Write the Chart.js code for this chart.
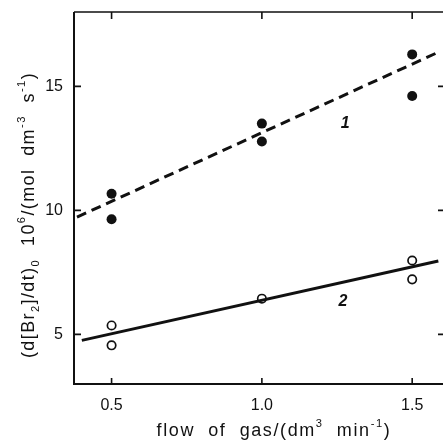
<!DOCTYPE html>
<html>
<head>
<meta charset="utf-8">
<script src="https://cdn.jsdelivr.net/npm/chart.js@4"></script>
<style>
  html, body { margin: 0; padding: 0; background: #fff; overflow: hidden; }
  #wrap { width: 443px; height: 441px; overflow: hidden; }
  canvas { display: block; }
</style>
</head>
<body>
<div id="wrap"><canvas id="rateChart" width="448" height="441"></canvas></div>
<script>
// ===== Data =====
const xTicks = [0.5, 1.0, 1.5];
const yTicks = [5, 10, 15];

// curve 1 (filled circles, dashed fit)
const flowFilled = [0.5, 0.5, 1.0, 1.0, 1.5, 1.5];
const rateFilled = [10.67, 9.64, 13.5, 12.78, 16.29, 14.61];
const line1Flow = [0.385, 1.587];
const line1Rate = [9.73, 16.38];

// curve 2 (open circles, solid fit)
const flowOpen = [0.5, 0.5, 1.0, 1.5, 1.5];
const rateOpen = [5.36, 4.56, 6.44, 7.98, 7.22];
const line2Flow = [0.401, 1.587];
const line2Rate = [4.76, 7.96];

// curve numbers
const curveLabels = ['1', '2'];
const curveLabelFlow = [1.277, 1.27];
const curveLabelRate = [13.5, 6.34];

const toPoints = (xs, ys) => xs.map((x, i) => ({ x: x, y: ys[i] }));

const INK = '#111';
const FONT = '"Liberation Sans", Arial, sans-serif';

// draw text made of normal / sub / sup pieces, centred on cx
function richText(ctx, parts, cx, baseY, size, spacing) {
  const measure = p => {
    const s = p.s ? size * 0.62 : size;
    ctx.font = s + 'px ' + FONT;
    return ctx.measureText(p.t).width + p.t.length * spacing;
  };
  const total = parts.reduce((w, p) => w + measure(p), 0);
  let x = cx - total / 2;
  parts.forEach(p => {
    const w = measure(p);
    let dy = 0;
    if (p.s === 'sub') dy = size * 0.28;
    if (p.s === 'sup') dy = -size * 0.5;
    let cx2 = x;
    for (const ch of p.t) {
      ctx.fillText(ch, cx2, baseY + dy);
      cx2 += ctx.measureText(ch).width + spacing;
    }
    x += w;
  });
}

// no extra edge padding from the tick labels
const noEdgePad = s => {
  s.paddingTop = 0; s.paddingBottom = 0;
  s.paddingLeft = 0; s.paddingRight = 0;
};

const framePlugin = {
  id: 'frame',
  afterDraw(chart) {
    const ctx = chart.ctx;
    const a = chart.chartArea;
    const xs = chart.scales.x;
    const ys = chart.scales.y;
    ctx.save();
    ctx.strokeStyle = INK;
    ctx.lineCap = 'butt';

    // frame
    ctx.lineWidth = 2;
    ctx.beginPath();
    ctx.moveTo(a.left, a.top);
    ctx.lineTo(a.left, a.bottom);
    ctx.lineTo(a.right, a.bottom);
    ctx.stroke();
    ctx.lineWidth = 1.6;
    ctx.beginPath();
    ctx.moveTo(a.left, a.top);
    ctx.lineTo(a.right, a.top);
    ctx.lineTo(a.right, a.bottom);
    ctx.stroke();

    // inward ticks
    ctx.lineWidth = 1.6;
    xs.ticks.forEach(t => {
      const px = xs.getPixelForValue(t.value);
      ctx.beginPath();
      ctx.moveTo(px, a.bottom); ctx.lineTo(px, a.bottom - 6);
      ctx.moveTo(px, a.top); ctx.lineTo(px, a.top + 7);
      ctx.stroke();
    });
    ys.ticks.forEach(t => {
      const py = ys.getPixelForValue(t.value);
      ctx.beginPath();
      ctx.moveTo(a.left, py); ctx.lineTo(a.left + 7, py);
      ctx.moveTo(a.right, py); ctx.lineTo(a.right - 8, py);
      ctx.stroke();
    });

    // curve numbers
    ctx.fillStyle = INK;
    ctx.font = 'italic bold 16px ' + FONT;
    ctx.textAlign = 'center';
    ctx.textBaseline = 'middle';
    curveLabels.forEach((lab, i) => {
      ctx.fillText(lab, xs.getPixelForValue(curveLabelFlow[i]), ys.getPixelForValue(curveLabelRate[i]));
    });

    // axis titles
    ctx.textAlign = 'left';
    ctx.textBaseline = 'alphabetic';
    richText(ctx, [
      { t: 'flow  of  gas/(dm' }, { t: '3', s: 'sup' }, { t: '  min' }, { t: '-1', s: 'sup' }, { t: ')' }
    ], 274, 436, 18, 1.6);

    ctx.translate(34, 215);
    ctx.rotate(-Math.PI / 2);
    richText(ctx, [
      { t: '(d[Br' }, { t: '2', s: 'sub' }, { t: ']/dt)' }, { t: '0', s: 'sub' },
      { t: '  10' }, { t: '6', s: 'sup' }, { t: '/(mol  dm' }, { t: '-3', s: 'sup' },
      { t: '  s' }, { t: '-1', s: 'sup' }, { t: ')' }
    ], 0, 0, 18, 1.4);
    ctx.restore();
  }
};

const ctx = document.getElementById('rateChart').getContext('2d');
new Chart(ctx, {
  type: 'scatter',
  data: {
    datasets: [
      {
        label: 'fit 1',
        data: toPoints(line1Flow, line1Rate),
        showLine: true,
        borderColor: INK,
        borderWidth: 3,
        borderDash: [10, 6],
        pointRadius: 0,
        fill: false
      },
      {
        label: 'fit 2',
        data: toPoints(line2Flow, line2Rate),
        showLine: true,
        borderColor: INK,
        borderWidth: 3,
        pointRadius: 0,
        fill: false
      },
      {
        label: 'curve 1',
        data: toPoints(flowFilled, rateFilled),
        pointRadius: 5,
        pointBackgroundColor: INK,
        pointBorderColor: INK,
        pointBorderWidth: 0
      },
      {
        label: 'curve 2',
        data: toPoints(flowOpen, rateOpen),
        pointRadius: 4.2,
        pointBackgroundColor: '#fff',
        pointBorderColor: INK,
        pointBorderWidth: 1.7
      }
    ]
  },
  options: {
    responsive: false,
    animation: false,
    events: [],
    layout: { autoPadding: false, padding: { top: 12, right: 2, left: 0, bottom: 0 } },
    plugins: { legend: { display: false }, tooltip: { enabled: false } },
    scales: {
      x: {
        type: 'linear',
        min: 0.375,
        max: 1.6125,
        afterBuildTicks: s => { s.ticks = xTicks.map(v => ({ value: v })); },
        afterFit: s => { s.height = 57; noEdgePad(s); },
        grid: { display: false, drawTicks: false },
        border: { display: false },
        ticks: {
          padding: 12,
          color: INK,
          font: { family: FONT, size: 16 },
          callback: v => v.toFixed(1)
        }
      },
      y: {
        type: 'linear',
        min: 3,
        max: 18,
        afterBuildTicks: s => { s.ticks = yTicks.map(v => ({ value: v })); },
        afterFit: s => { s.width = 74; noEdgePad(s); },
        grid: { display: false, drawTicks: false },
        border: { display: false },
        ticks: {
          padding: 11,
          color: INK,
          font: { family: FONT, size: 16 },
          callback: v => String(v)
        }
      }
    }
  },
  plugins: [framePlugin]
});
</script>
</body>
</html>
